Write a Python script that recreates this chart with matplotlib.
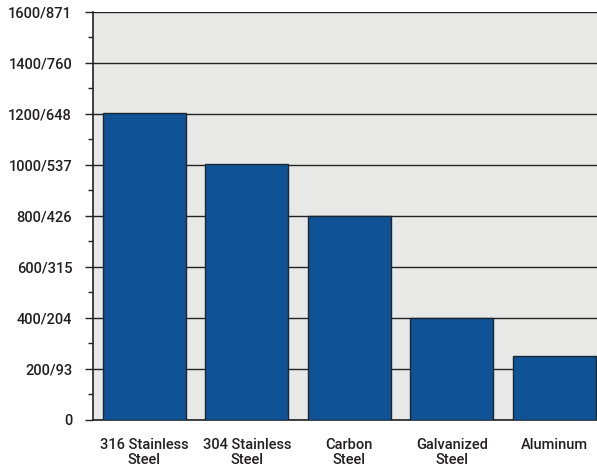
import matplotlib.pyplot as plt
from matplotlib.ticker import MultipleLocator

materials = ['316 Stainless\nSteel', '304 Stainless\nSteel', 'Carbon\nSteel',
             'Galvanized\nSteel', 'Aluminum']
temps = [1205, 1005, 800, 400, 250]
ytick_vals = [0, 200, 400, 600, 800, 1000, 1200, 1400, 1600]
ytick_labels = ['0', '200/93', '400/204', '600/315', '800/426', '1000/537',
                '1200/648', '1400/760', '1600/871']

plt.rcParams['font.family'] = ['Roboto', 'DejaVu Sans']

fig = plt.figure(figsize=(5.97, 4.68), dpi=100)
ax = fig.add_axes([0.1558, 0.1026, 0.8442, 0.8718])
ax.set_facecolor('#e8e8e6')

x = range(len(materials))
ax.bar(x, temps, width=0.81, color='#0f5296', edgecolor='#1b2633',
       linewidth=1.0, zorder=3)

ax.set_xlim(-0.5, 4.415)
ax.set_ylim(0, 1600)
ax.set_yticks(ytick_vals)
ax.set_yticklabels(ytick_labels, fontsize=10.5, fontweight='medium', color='#231f20')
ax.yaxis.set_minor_locator(MultipleLocator(100))
ax.set_xticks(list(x))
ax.set_xticklabels(materials, fontsize=10.5, fontweight='medium', color='#231f20',
                   linespacing=1.1)
ax.tick_params(axis='x', length=0, pad=13)
ax.tick_params(axis='y', which='major', length=6, width=1, pad=9, color='#222222')
ax.tick_params(axis='y', which='minor', length=3.6, width=1, color='#222222')

ax.grid(axis='y', which='major', color='#222222', linewidth=1, zorder=1)
ax.set_axisbelow(True)
for s in ['top', 'right']:
    ax.spines[s].set_visible(False)
for s in ['left', 'bottom']:
    ax.spines[s].set_color('#222222')
    ax.spines[s].set_linewidth(1.2)

fig.savefig('out.png', dpi=100)
